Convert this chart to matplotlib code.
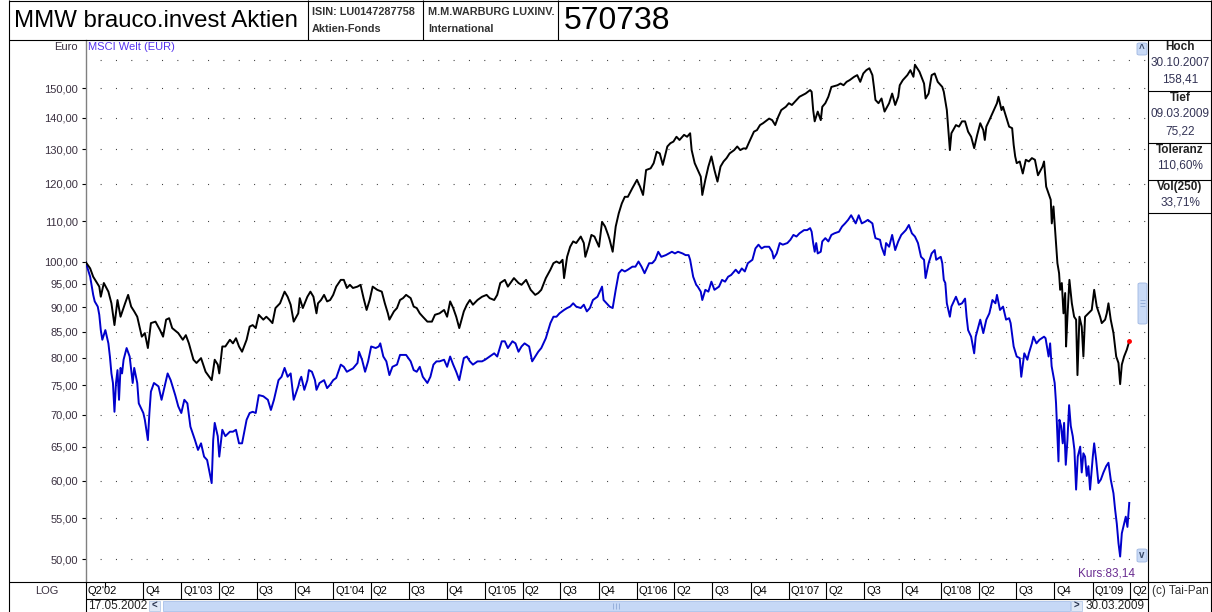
import datetime as dt
import matplotlib
matplotlib.use('Agg')
import matplotlib.pyplot as plt
from matplotlib.lines import Line2D
from matplotlib.patches import Rectangle, FancyBboxPatch
from matplotlib.ticker import FixedLocator, NullLocator, FuncFormatter
from matplotlib.transforms import offset_copy

plt.rcParams['font.family'] = ['Liberation Sans', 'DejaVu Sans']
plt.rcParams['lines.scale_dashes'] = False

# ---- data (decimal years, Euro, both series start at 100) ----
fund_x = [2002.37, 2002.40, 2002.42, 2002.44, 2002.46, 2002.47, 2002.49, 2002.52, 2002.54, 2002.56,
          2002.58, 2002.60, 2002.63, 2002.65, 2002.67, 2002.69, 2002.71, 2002.74, 2002.76, 2002.78,
          2002.80, 2002.83, 2002.86, 2002.88, 2002.90, 2002.92, 2002.94, 2002.98, 2003.01, 2003.03,
          2003.05, 2003.08, 2003.10, 2003.13, 2003.16, 2003.20, 2003.22, 2003.24, 2003.25, 2003.27,
          2003.29, 2003.32, 2003.34, 2003.36, 2003.38, 2003.40, 2003.43, 2003.45, 2003.47, 2003.49,
          2003.51, 2003.54, 2003.56, 2003.58, 2003.60, 2003.62, 2003.65, 2003.68, 2003.70, 2003.72,
          2003.74, 2003.77, 2003.78, 2003.80, 2003.83, 2003.85, 2003.87, 2003.89, 2003.90, 2003.92,
          2003.94, 2003.96, 2003.98, 2004.00, 2004.02, 2004.05, 2004.07, 2004.09, 2004.11, 2004.13,
          2004.16, 2004.18, 2004.20, 2004.22, 2004.24, 2004.26, 2004.29, 2004.32, 2004.34, 2004.36,
          2004.37, 2004.40, 2004.42, 2004.44, 2004.46, 2004.48, 2004.51, 2004.53, 2004.55, 2004.57,
          2004.59, 2004.62, 2004.65, 2004.67, 2004.70, 2004.73, 2004.75, 2004.77, 2004.79, 2004.81,
          2004.83, 2004.86, 2004.88, 2004.90, 2004.92, 2004.95, 2004.98, 2005.01, 2005.03, 2005.06,
          2005.08, 2005.10, 2005.13, 2005.15, 2005.19, 2005.22, 2005.24, 2005.27, 2005.30, 2005.33,
          2005.35, 2005.37, 2005.40, 2005.43, 2005.45, 2005.47, 2005.49, 2005.51, 2005.52, 2005.54,
          2005.56, 2005.58, 2005.60, 2005.63, 2005.65, 2005.66, 2005.68, 2005.70, 2005.72, 2005.75,
          2005.77, 2005.79, 2005.81, 2005.82, 2005.84, 2005.86, 2005.88, 2005.90, 2005.92, 2005.94,
          2005.97, 2006.00, 2006.02, 2006.04, 2006.06, 2006.09, 2006.11, 2006.13, 2006.15, 2006.17,
          2006.20, 2006.22, 2006.24, 2006.26, 2006.28, 2006.31, 2006.33, 2006.35, 2006.36, 2006.38,
          2006.40, 2006.42, 2006.43, 2006.45, 2006.47, 2006.49, 2006.51, 2006.53, 2006.55, 2006.57,
          2006.59, 2006.61, 2006.64, 2006.66, 2006.68, 2006.70, 2006.72, 2006.74, 2006.77, 2006.79,
          2006.81, 2006.83, 2006.87, 2006.89, 2006.91, 2006.93, 2006.95, 2006.98, 2007.00, 2007.02,
          2007.04, 2007.07, 2007.11, 2007.14, 2007.15, 2007.16, 2007.17, 2007.19, 2007.21, 2007.22,
          2007.24, 2007.26, 2007.28, 2007.32, 2007.34, 2007.36, 2007.38, 2007.40, 2007.43, 2007.45,
          2007.47, 2007.49, 2007.51, 2007.53, 2007.55, 2007.56, 2007.57, 2007.59, 2007.61, 2007.63,
          2007.66, 2007.68, 2007.70, 2007.72, 2007.73, 2007.75, 2007.78, 2007.80, 2007.82, 2007.83,
          2007.86, 2007.89, 2007.90, 2007.92, 2007.94, 2007.96, 2007.98, 2008.01, 2008.02, 2008.04,
          2008.05, 2008.06, 2008.07, 2008.10, 2008.12, 2008.14, 2008.16, 2008.18, 2008.20, 2008.22,
          2008.24, 2008.26, 2008.28, 2008.29, 2008.30, 2008.32, 2008.35, 2008.37, 2008.38, 2008.40,
          2008.41, 2008.43, 2008.45, 2008.47, 2008.48, 2008.49, 2008.50, 2008.52, 2008.54, 2008.56,
          2008.58, 2008.60, 2008.62, 2008.64, 2008.67, 2008.68, 2008.694, 2008.709, 2008.724, 2008.731,
          2008.742, 2008.753, 2008.768, 2008.779, 2008.786, 2008.797, 2008.808, 2008.819, 2008.825, 2008.834,
          2008.847, 2008.863, 2008.878, 2008.891, 2008.900, 2008.913, 2008.928, 2008.939, 2008.950, 2008.972,
          2008.994, 2009.010, 2009.027, 2009.049, 2009.060, 2009.082, 2009.093, 2009.104, 2009.119, 2009.137,
          2009.155, 2009.170, 2009.181, 2009.192, 2009.207, 2009.225, 2009.241]
fund_y = [100.0, 98.5, 96.6, 95.5, 94.4, 92.2, 95.2, 93.3, 90.8, 86.3,
          91.5, 88.0, 90.8, 92.6, 90.1, 89.1, 88.0, 84.0, 84.7, 81.8,
          86.7, 87.0, 85.3, 84.0, 87.4, 87.7, 85.7, 84.7, 83.4, 84.3,
          82.7, 79.6, 79.0, 79.9, 77.4, 75.9, 79.6, 78.7, 77.1, 82.1,
          82.1, 83.4, 82.7, 83.7, 82.1, 81.1, 83.4, 86.0, 86.3, 85.7,
          88.4, 87.4, 88.0, 87.4, 86.7, 89.8, 90.8, 93.3, 92.2, 90.5,
          87.0, 88.7, 91.9, 89.8, 92.2, 93.3, 92.2, 88.7, 90.8, 91.5,
          92.6, 91.2, 91.5, 92.6, 94.4, 95.9, 95.9, 94.1, 94.8, 94.1,
          94.4, 94.8, 91.9, 89.4, 91.5, 94.4, 93.7, 93.3, 90.8, 88.7,
          87.4, 89.1, 89.8, 91.5, 91.9, 92.6, 91.9, 90.1, 89.8, 88.7,
          88.0, 87.0, 87.0, 88.4, 88.7, 89.4, 88.0, 91.2, 89.8, 88.0,
          85.7, 89.1, 90.5, 91.5, 90.5, 91.5, 92.2, 92.6, 91.9, 91.5,
          92.6, 95.2, 95.9, 94.4, 96.3, 95.2, 94.8, 95.9, 93.7, 92.6,
          93.0, 93.7, 96.3, 98.2, 99.7, 100.1, 99.7, 100.5, 96.3, 101.2,
          103.6, 104.9, 104.5, 106.1, 104.5, 101.2, 103.6, 106.5, 106.1, 103.6,
          109.8, 108.6, 106.5, 105.3, 102.4, 108.6, 112.0, 114.6, 116.4, 116.4,
          118.8, 121.1, 119.2, 116.9, 123.9, 124.4, 125.9, 129.3, 128.8, 125.4,
          130.9, 131.9, 132.4, 133.9, 132.9, 134.5, 133.9, 135.0, 129.8, 125.9,
          123.9, 122.0, 116.9, 121.1, 124.9, 127.9, 123.9, 120.6, 124.9, 126.4,
          127.4, 128.8, 129.8, 130.9, 129.8, 130.3, 130.3, 132.4, 135.5, 136.0,
          137.6, 138.2, 139.7, 139.2, 137.6, 140.3, 142.5, 143.6, 144.8, 144.2,
          145.3, 147.0, 148.1, 149.3, 148.7, 142.5, 138.8, 142.0, 139.2, 143.6,
          144.8, 147.0, 150.4, 151.0, 151.6, 151.0, 152.2, 152.8, 154.0, 154.6,
          152.2, 155.2, 156.4, 157.1, 154.6, 150.4, 145.9, 144.8, 146.4, 142.0,
          144.8, 148.1, 144.2, 147.0, 151.0, 152.8, 154.6, 156.4, 154.0, 158.4,
          155.8, 151.6, 146.4, 148.1, 154.6, 155.2, 152.2, 150.4, 148.7, 142.5,
          136.0, 129.8, 135.0, 137.6, 137.1, 138.8, 138.8, 135.5, 133.9, 130.4,
          134.5, 138.2, 136.0, 132.9, 137.1, 139.2, 142.5, 144.8, 147.0, 142.5,
          143.6, 140.3, 137.1, 136.6, 131.4, 127.9, 125.9, 126.4, 122.9, 126.9,
          126.4, 127.4, 126.9, 122.4, 124.9, 126.4, 119.2, 117.4, 115.6, 109.4,
          113.8, 107.7, 99.7, 97.4, 93.7, 95.2, 88.7, 93.0, 82.1, 88.0,
          95.9, 90.8, 88.0, 87.4, 76.8, 88.0, 86.0, 80.2, 88.0, 88.7,
          89.4, 93.7, 90.1, 88.0, 86.7, 87.4, 88.7, 90.8, 87.4, 84.7,
          80.2, 79.0, 75.2, 78.7, 80.2, 81.5, 83.1]

msci_x = [2002.37, 2002.40, 2002.42, 2002.43, 2002.45, 2002.46, 2002.47, 2002.48, 2002.50, 2002.52,
          2002.53, 2002.54, 2002.55, 2002.56, 2002.57, 2002.58, 2002.59, 2002.60, 2002.61, 2002.62,
          2002.64, 2002.66, 2002.67, 2002.68, 2002.69, 2002.71, 2002.72, 2002.75, 2002.76, 2002.78,
          2002.79, 2002.80, 2002.82, 2002.85, 2002.87, 2002.89, 2002.91, 2002.93, 2002.96, 2002.98,
          2003.00, 2003.02, 2003.04, 2003.06, 2003.09, 2003.11, 2003.13, 2003.15, 2003.17, 2003.20,
          2003.21, 2003.22, 2003.24, 2003.25, 2003.27, 2003.29, 2003.32, 2003.34, 2003.36, 2003.38,
          2003.40, 2003.43, 2003.45, 2003.47, 2003.49, 2003.51, 2003.54, 2003.57, 2003.59, 2003.61,
          2003.64, 2003.66, 2003.68, 2003.70, 2003.72, 2003.74, 2003.77, 2003.78, 2003.79, 2003.81,
          2003.83, 2003.84, 2003.86, 2003.88, 2003.89, 2003.91, 2003.94, 2003.96, 2003.98, 2004.00,
          2004.02, 2004.05, 2004.07, 2004.09, 2004.11, 2004.13, 2004.16, 2004.17, 2004.19, 2004.21,
          2004.23, 2004.25, 2004.28, 2004.30, 2004.31, 2004.33, 2004.35, 2004.37, 2004.39, 2004.42,
          2004.44, 2004.46, 2004.48, 2004.51, 2004.53, 2004.55, 2004.57, 2004.59, 2004.62, 2004.64,
          2004.66, 2004.68, 2004.70, 2004.73, 2004.75, 2004.77, 2004.79, 2004.81, 2004.83, 2004.86,
          2004.88, 2004.90, 2004.92, 2004.95, 2004.98, 2005.00, 2005.03, 2005.06, 2005.08, 2005.11,
          2005.13, 2005.15, 2005.18, 2005.20, 2005.22, 2005.24, 2005.26, 2005.29, 2005.31, 2005.33,
          2005.35, 2005.37, 2005.40, 2005.43, 2005.45, 2005.47, 2005.49, 2005.52, 2005.54, 2005.56,
          2005.58, 2005.60, 2005.63, 2005.65, 2005.67, 2005.69, 2005.71, 2005.74, 2005.76, 2005.77,
          2005.78, 2005.80, 2005.82, 2005.84, 2005.86, 2005.88, 2005.90, 2005.92, 2005.94, 2005.97,
          2005.99, 2006.01, 2006.03, 2006.05, 2006.08, 2006.10, 2006.12, 2006.14, 2006.16, 2006.19,
          2006.21, 2006.23, 2006.25, 2006.27, 2006.30, 2006.32, 2006.34, 2006.35, 2006.37, 2006.39,
          2006.40, 2006.42, 2006.43, 2006.45, 2006.47, 2006.49, 2006.51, 2006.54, 2006.56, 2006.58,
          2006.60, 2006.62, 2006.65, 2006.67, 2006.69, 2006.71, 2006.73, 2006.76, 2006.78, 2006.80,
          2006.82, 2006.84, 2006.87, 2006.89, 2006.90, 2006.92, 2006.94, 2006.96, 2006.99, 2007.01,
          2007.03, 2007.05, 2007.07, 2007.10, 2007.12, 2007.14, 2007.15, 2007.16, 2007.17, 2007.18,
          2007.19, 2007.21, 2007.22, 2007.24, 2007.26, 2007.28, 2007.30, 2007.33, 2007.35, 2007.37,
          2007.39, 2007.41, 2007.44, 2007.46, 2007.48, 2007.50, 2007.52, 2007.55, 2007.56, 2007.57,
          2007.60, 2007.61, 2007.63, 2007.64, 2007.66, 2007.68, 2007.70, 2007.72, 2007.74, 2007.77,
          2007.79, 2007.81, 2007.83, 2007.85, 2007.87, 2007.89, 2007.90, 2007.92, 2007.94, 2007.96,
          2007.97, 2008.00, 2008.01, 2008.02, 2008.03, 2008.04, 2008.06, 2008.07, 2008.10, 2008.12,
          2008.14, 2008.16, 2008.17, 2008.18, 2008.20, 2008.22, 2008.23, 2008.26, 2008.28, 2008.30,
          2008.32, 2008.34, 2008.36, 2008.37, 2008.39, 2008.41, 2008.43, 2008.45, 2008.46, 2008.48,
          2008.50, 2008.52, 2008.53, 2008.55, 2008.57, 2008.58, 2008.60, 2008.61, 2008.63, 2008.65,
          2008.68, 2008.69, 2008.71, 2008.72, 2008.73, 2008.75, 2008.759, 2008.768, 2008.775, 2008.781,
          2008.792, 2008.803, 2008.812, 2008.823, 2008.834, 2008.845, 2008.856, 2008.869, 2008.880, 2008.891,
          2008.902, 2008.918, 2008.928, 2008.939, 2008.950, 2008.961, 2008.972, 2008.983, 2009.001, 2009.010,
          2009.023, 2009.038, 2009.054, 2009.071, 2009.089, 2009.104, 2009.119, 2009.137, 2009.148, 2009.159,
          2009.170, 2009.181, 2009.192, 2009.207, 2009.218, 2009.229, 2009.241]
msci_y = [100.0, 96.6, 92.6, 91.2, 90.1, 88.4, 85.3, 83.4, 85.3, 82.7,
          80.2, 77.1, 75.4, 70.5, 75.4, 77.7, 72.5, 78.1, 77.1, 79.6,
          81.8, 80.2, 77.7, 75.4, 78.1, 75.4, 71.9, 70.3, 69.2, 66.0,
          70.3, 73.9, 75.4, 74.8, 72.5, 74.8, 77.1, 75.9, 73.3, 71.4,
          70.3, 72.5, 71.9, 68.1, 66.0, 64.5, 65.5, 63.5, 63.0, 59.7,
          66.0, 68.7, 66.6, 63.5, 67.6, 66.6, 67.3, 67.3, 67.6, 65.5,
          65.5, 69.2, 70.3, 70.5, 70.3, 73.3, 73.1, 72.5, 70.8, 72.5,
          75.9, 76.5, 78.1, 76.5, 77.1, 72.5, 74.8, 75.9, 76.5, 74.2,
          75.9, 77.7, 77.4, 75.9, 74.2, 75.4, 75.9, 74.5, 75.1, 75.9,
          76.3, 78.7, 78.3, 77.4, 77.7, 78.0, 79.0, 81.1, 79.6, 77.4,
          79.3, 82.1, 81.8, 82.1, 82.7, 80.2, 79.3, 76.8, 78.3, 78.7,
          80.5, 80.5, 80.5, 79.3, 77.7, 77.4, 78.3, 76.5, 75.4, 76.5,
          78.7, 79.3, 79.3, 79.6, 78.3, 80.2, 78.7, 77.4, 75.9, 79.9,
          80.2, 79.3, 78.7, 79.3, 79.3, 79.6, 80.2, 80.8, 80.2, 83.1,
          83.1, 81.8, 83.1, 82.7, 81.1, 82.1, 82.7, 82.1, 79.3, 80.2,
          81.1, 81.8, 83.7, 86.7, 88.0, 88.0, 88.7, 89.4, 89.8, 90.1,
          90.8, 90.1, 89.8, 90.5, 89.1, 89.8, 91.5, 92.2, 93.7, 94.4,
          91.5, 90.8, 90.1, 89.8, 93.7, 97.4, 98.2, 97.8, 98.2, 98.9,
          98.9, 100.1, 98.9, 97.4, 99.7, 99.7, 100.5, 102.4, 101.2, 101.6,
          102.0, 102.4, 102.0, 102.4, 102.0, 101.6, 101.6, 100.5, 96.6, 94.8,
          94.4, 93.3, 91.5, 93.7, 93.3, 95.5, 93.7, 94.4, 95.9, 95.5,
          96.6, 97.0, 98.2, 97.4, 98.5, 97.8, 99.7, 100.5, 103.2, 104.1,
          103.2, 103.6, 103.6, 102.4, 100.8, 102.0, 104.5, 104.1, 104.5, 105.3,
          106.5, 106.1, 106.9, 107.7, 107.7, 108.2, 107.3, 104.5, 102.4, 104.5,
          102.0, 102.4, 104.9, 105.7, 104.9, 106.5, 106.9, 107.3, 108.6, 109.4,
          110.3, 111.5, 109.4, 111.5, 109.4, 109.8, 110.3, 109.4, 107.3, 105.7,
          105.3, 103.6, 101.6, 104.5, 103.6, 106.5, 102.8, 104.9, 106.5, 107.7,
          109.0, 106.9, 106.1, 104.5, 101.2, 100.5, 96.3, 99.7, 102.0, 102.8,
          100.5, 101.2, 99.7, 95.9, 95.2, 90.8, 88.0, 90.1, 92.2, 90.5,
          90.8, 91.8, 88.0, 85.3, 84.0, 80.8, 84.0, 87.4, 84.7, 87.4,
          88.7, 91.5, 90.8, 92.6, 89.4, 90.1, 87.4, 87.7, 86.7, 82.1,
          80.2, 79.9, 76.5, 80.8, 79.6, 80.8, 82.7, 84.0, 82.7, 83.4,
          84.0, 83.7, 80.2, 82.7, 78.4, 75.4, 71.9, 66.6, 62.8, 69.2,
          68.2, 65.5, 68.7, 62.3, 66.0, 71.6, 68.2, 66.6, 64.5, 58.8,
          63.5, 65.0, 61.2, 64.0, 63.5, 60.7, 62.1, 58.8, 63.5, 65.5,
          63.0, 59.7, 60.2, 61.2, 62.1, 62.6, 60.2, 58.3, 56.1, 54.3,
          51.9, 50.3, 53.1, 54.3, 55.2, 53.9, 57.0]

y_ticks = [50, 55, 60, 65, 70, 75, 80, 85, 90, 95, 100, 110, 120, 130, 140, 150]
grid_rows = y_ticks + [160]

start_date = "2002-05-17"
end_view = "2009-05-14"
first_label = "Q2'02"
quarter_starts = ["2002-07-01", "2002-10-01",
                  "2003-01-01", "2003-04-01", "2003-07-01", "2003-10-01",
                  "2004-01-01", "2004-04-01", "2004-07-01", "2004-10-01",
                  "2005-01-01", "2005-04-01", "2005-07-01", "2005-10-01",
                  "2006-01-01", "2006-04-01", "2006-07-01", "2006-10-01",
                  "2007-01-01", "2007-04-01", "2007-07-01", "2007-10-01",
                  "2008-01-01", "2008-04-01", "2008-07-01", "2008-10-01",
                  "2009-01-01", "2009-04-01"]
quarter_labels = ["", "Q4",
                  "Q1'03", "Q2", "Q3", "Q4",
                  "Q1'04", "Q2", "Q3", "Q4",
                  "Q1'05", "Q2", "Q3", "Q4",
                  "Q1'06", "Q2", "Q3", "Q4",
                  "Q1'07", "Q2", "Q3", "Q4",
                  "Q1'08", "Q2", "Q3", "Q4",
                  "Q1'09", "Q2"]

panel_titles = ["Hoch", "Tief", "Toleranz", "Vol(250)"]
panel_values = [["30.10.2007", "158,41"], ["09.03.2009", "75,22"], ["110,60%"], ["33,71%"]]


def dec_year(s):
    d = dt.date.fromisoformat(s)
    y0 = dt.date(d.year, 1, 1)
    n = (dt.date(d.year + 1, 1, 1) - y0).days
    return d.year + (d - y0).days / n


W, H = 1212, 612
fig = plt.figure(figsize=(W / 100, H / 100), dpi=100)
fig.patch.set_facecolor('white')


def fx(x):
    return x / W


def fy(y):
    return 1 - y / H


def rule(x0, y0, x1, y1, color='black', lw=0.8):
    fig.add_artist(Line2D([fx(x0), fx(x1)], [fy(y0), fy(y1)], transform=fig.transFigure,
                          color=color, lw=lw, solid_capstyle='butt'))


def label(x, y, s, **kw):
    kw.setdefault('fontsize', 8)
    kw.setdefault('va', 'center')
    fig.text(fx(x), fy(y), s, **kw)


x_lo, x_hi = dec_year(start_date), dec_year(end_view)
L, R, T, B = 86, 1148, 40, 582

# main chart
ax = fig.add_axes([fx(L), fy(B), fx(R) - fx(L), fy(T) - fy(B)])
ax.set_yscale('log')
ax.set_ylim(47.4, 167.8)
ax.set_xlim(x_lo, x_hi)
ax.yaxis.set_major_locator(FixedLocator(y_ticks))
ax.yaxis.set_minor_locator(NullLocator())
ax.yaxis.set_major_formatter(FuncFormatter(lambda v, p: f"{v:.2f}".replace('.', ',')))
ax.tick_params(axis='y', direction='out', length=3, width=0.8, pad=3, labelsize=8,
               labelcolor='#3a3040', color='black')
ax.tick_params(axis='x', bottom=False, labelbottom=False)
for side in ['top', 'right', 'bottom']:
    ax.spines[side].set_visible(False)
ax.spines['left'].set_color('#808080')
ax.spines['left'].set_linewidth(1.0)

for v in grid_rows:
    ax.axhline(v, color='#404040', lw=0.8, ls=(0.9, (0.75, 10.3)), zorder=1)

ax.plot(msci_x, msci_y, color='#0000cc', lw=1.4, zorder=3)
ax.plot(fund_x, fund_y, color='black', lw=1.4, zorder=4)
ax.plot(fund_x[-1:], fund_y[-1:], 'o', color='red', ms=2.5, zorder=5)

# quarter row under the chart
axq = fig.add_axes([fx(L), fy(599), fx(R) - fx(L), fy(582) - fy(599)])
axq.set_xlim(x_lo, x_hi)
axq.set_ylim(0, 1)
axq.axis('off')
shift = offset_copy(axq.transData, fig=fig, x=2, y=0, units='dots')
axq.text(x_lo, 0.5, first_label, transform=shift, fontsize=8, va='center', ha='left')
for q, lab in zip(quarter_starts, quarter_labels):
    qx = dec_year(q)
    if lab:
        axq.axvline(qx, color='black', lw=0.8)
        axq.text(qx, 0.5, lab, transform=shift, fontsize=8, va='center', ha='left')
    else:
        axq.axvline(qx, ymin=0.7, ymax=1, color='black', lw=0.8)

# frame lines
rule(9, 0.5, 1211, 0.5)
rule(9, 0, 9, 612)
rule(1211, 0, 1211, 612)
rule(9, 40, 1211, 40)
for xs in [308, 423, 558]:
    rule(xs, 0, xs, 40)
rule(9, 582, 1211, 582)
rule(86, 599, 1148, 599)
rule(86, 582, 86, 612)
rule(1148, 40, 1148, 612)
for ys in [91, 143, 180, 213]:
    rule(1148, ys, 1211, ys)

# header
label(14, 21, "MMW brauco.invest Aktien", fontsize=17.3)
label(312, 12, "ISIN: LU0147287758", fontsize=7.8, fontweight='bold', color='#333333')
label(312, 29, "Aktien-Fonds", fontsize=7.8, fontweight='bold', color='#333333')
label(428, 12, "M.M.WARBURG LUXINV.", fontsize=7.8, fontweight='bold', color='#333333')
label(428, 29, "International", fontsize=7.8, fontweight='bold', color='#333333')
label(564, 21, "570738", fontsize=23)

# labels around chart
label(78, 47, "Euro", ha='right', color='#3a3040')
label(88, 47, "MSCI Welt (EUR)", color='#5533ee')
label(47, 591, "LOG", ha='center', color='#3a3040')
label(1135, 573, "Kurs:83,14", ha='right', fontsize=8.5, color='#6a2c91')
label(1152, 591, "(c) Tai-Pan", fontsize=8.5, color='#333333')

# right info panel
panel_tops = [47, 98, 150, 187]
for top, title, vals in zip(panel_tops, panel_titles, panel_values):
    label(1180, top, title, ha='center', fontsize=8.5, fontweight='bold', color='#222222')
    for i, s in enumerate(vals):
        label(1180, top + 17 * (i + 1) - 1, s, ha='center', fontsize=8.5, color='#333355')

# scroll bar row
label(88, 606, "17.05.2002", fontsize=8.5, color='#222222')
label(1145, 606, "30.03.2009", ha='right', fontsize=8.5, color='#222222')
fig.add_artist(Rectangle((fx(163), fy(611)), fx(1070) - fx(163), fy(601) - fy(611),
                         transform=fig.transFigure, facecolor='#c6d8f6', edgecolor='#a9c1ea', lw=0.6))
for bx, arrow in [(149, '<'), (1071, '>')]:
    fig.add_artist(Rectangle((fx(bx), fy(611)), fx(11), fy(601) - fy(611),
                             transform=fig.transFigure, facecolor='#dfe8f7', edgecolor='#b5c8e8', lw=0.6))
    label(bx + 5.5, 606, arrow, ha='center', fontsize=7, fontweight='bold', color='#2a3550')
for gx in [613, 616, 619]:
    rule(gx, 603, gx, 609, color='#8fa9d6', lw=0.6)

# vertical scroll widgets on the right edge of the chart
for (by0, by1, arrow) in [(43, 55, '^'), (549, 562, 'v')]:
    fig.add_artist(FancyBboxPatch((fx(1137), fy(by1)), fx(10), fy(by0) - fy(by1),
                                  boxstyle='round,pad=0,rounding_size=0.002',
                                  transform=fig.transFigure, facecolor='#c9daf6',
                                  edgecolor='#9fb7e2', lw=0.6))
    label(1142, (by0 + by1) / 2, arrow, ha='center', fontsize=7, fontweight='bold', color='#3a4a6a')
fig.add_artist(FancyBboxPatch((fx(1138), fy(324)), fx(9), fy(283) - fy(324),
                              boxstyle='round,pad=0,rounding_size=0.002',
                              transform=fig.transFigure, facecolor='#c9daf6',
                              edgecolor='#9fb7e2', lw=0.6))
for gy in [300, 303, 306]:
    rule(1140, gy, 1145, gy, color='#8fa9d6', lw=0.6)

fig.savefig('out.png', dpi=100)
